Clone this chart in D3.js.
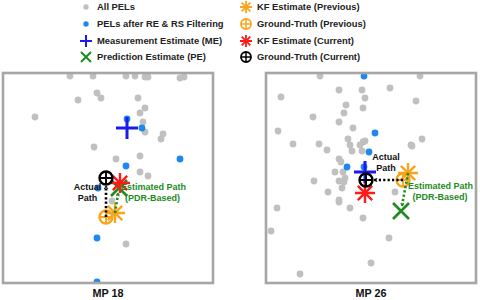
<!DOCTYPE html>
<html><head><meta charset="utf-8">
<script src="https://cdn.jsdelivr.net/npm/d3@7"></script>
<style>body{margin:0;background:#fff}svg{display:block}text{font-family:"Liberation Sans",Arial,sans-serif;font-weight:bold}</style>
</head><body><svg id="c" width="480" height="300"></svg>
<script>
// ---- data (local units) ----
const panelNames = ["MP 18", "MP 26"];
const gray18 = [[67,207],[90,207],[123,207],[132,207],[142,206],[145,206],[177,205],[181,206],[94,190],[98,185],[75,183],[135,185],[142,175],[137,170],[32,166],[140,161],[142,151],[160,149],[158,144],[91,136],[113,124],[137,127],[137,111],[145,107],[109,82],[123,39]];
const blue18 = [[124,164],[139,155],[177,124],[123,117],[95,95],[94,45],[94,1]];
const me18 = [124,155], gtCur18 = [103,105], kfCur18 = [117,100], pe18 = [116,95], gtPrev18 = [103,66], kfPrev18 = [112,70];
const gray26 = [[54,207],[154,207],[73,193],[124,195],[96,193],[15,186],[99,185],[150,182],[80,178],[97,175],[78,170],[47,166],[73,161],[87,155],[12,152],[156,144],[146,137],[145,138],[27,139],[53,139],[82,144],[84,138],[94,138],[97,141],[99,142],[61,133],[86,132],[96,132],[75,121],[73,124],[69,111],[77,111],[79,105],[73,102],[78,101],[48,102],[76,95],[62,91],[129,91],[73,83],[73,81],[11,75],[84,75],[97,65],[5,52],[123,45],[105,20],[34,9]];
const blue26 = [[98,207],[109,150],[103,131],[81,116],[98,116]];
const me26 = [99,111], gtCur26 = [100,103], kfCur26 = [99,90], pe26 = [135,72], gtPrev26 = [137,103], kfPrev26 = [142,110];
const legendLabels = ["All PELs","PELs after RE & RS Filtering","Measurement Estimate (ME)","Prediction Estimate (PE)","KF Estimate (Previous)","Ground-Truth (Previous)","KF Estimate (Current)","Ground-Truth (Current)"];

const C = {gray:"#c0c0c0", blue:"#1e88f0", me:"#1a1aee", pe:"#1f8a1f", kf:"#ff1a1a", orange:"#f8a51c", black:"#000", green:"#1f8a1f"};

const svg = d3.select("#c");
const defs = svg.append("defs");
function arrow(id,color){
  defs.append("marker").attr("id",id).attr("viewBox","0 0 10 10").attr("refX",9).attr("refY",5)
   .attr("markerWidth",4).attr("markerHeight",4).attr("orient","auto").attr("markerUnits","userSpaceOnUse")
   .append("path").attr("d","M1,1L9,5L1,9").attr("fill","none").attr("stroke",color).attr("stroke-width",2.5);
}
arrow("ab","#000"); arrow("ag",C.green);

// marker drawers
function plus(g,x,y,r,col,w){g.append("path").attr("d",`M${x-r},${y}H${x+r}M${x},${y-r}V${y+r}`).attr("stroke",col).attr("stroke-width",w).attr("fill","none");}
function cross(g,x,y,r,col,w){g.append("path").attr("d",`M${x-r},${y-r}L${x+r},${y+r}M${x-r},${y+r}L${x+r},${y-r}`).attr("stroke",col).attr("stroke-width",w).attr("fill","none");}
function aster(g,x,y,r,col,w){plus(g,x,y,r,col,w);const q=r*0.72;cross(g,x,y,q,col,w);}
function oplus(g,x,y,r,col,w){g.append("circle").attr("cx",x).attr("cy",y).attr("r",r).attr("fill","none").attr("stroke",col).attr("stroke-width",w);plus(g,x,y,r,col,w*0.8);}

// legend
const legG = svg.append("g");
const col1 = 86, col2 = 246, rows = [7,24,41,57];
function legItem(i){
  const x = i<4?col1:col2, y = rows[i%4];
  if(i===0) legG.append("circle").attr("cx",x).attr("cy",y).attr("r",2.7).attr("fill",C.gray);
  if(i===1) legG.append("circle").attr("cx",x).attr("cy",y).attr("r",2.7).attr("fill",C.blue);
  if(i===2) plus(legG,x,y,6,C.me,2);
  if(i===3) cross(legG,x,y,5,C.pe,2);
  if(i===4) aster(legG,x,y,6,C.orange,1.8);
  if(i===5) oplus(legG,x,y,5,C.orange,1.8);
  if(i===6) aster(legG,x,y,6,C.kf,1.8);
  if(i===7) oplus(legG,x,y,5,C.black,1.8);
  legG.append("text").attr("x",x+11).attr("y",y).attr("dy","0.35em").attr("font-size",9.4).attr("fill","#222").text(legendLabels[i]);
}
legendLabels.forEach((d,i)=>legItem(i));

const panels = [
  {left:3, name:panelNames[0], gray:gray18, blue:blue18, me:me18, gtCur:gtCur18, kfCur:kfCur18, pe:pe18, gtPrev:gtPrev18, kfPrev:kfPrev18,
   lab:{actual:[84.5,96,"middle"], est:[118,96,"start"], pdr:[149.5,86]}},
  {left:266, name:panelNames[1], gray:gray26, blue:blue26, me:me26, gtCur:gtCur26, kfCur:kfCur26, pe:pe26, gtPrev:gtPrev26, kfPrev:kfPrev26,
   lab:{actual:[120,126,"middle"], est:[142,97,"start"], pdr:[174,86]}}
];

panels.forEach((p,pi)=>{
  const top=73, W=210, H=210;
  const x = d3.scaleLinear().domain([0,210]).range([p.left,p.left+W]);
  const y = d3.scaleLinear().domain([0,210]).range([top+H,top]);
  const cid = "clip"+pi;
  defs.append("clipPath").attr("id",cid).append("rect").attr("x",p.left).attr("y",top).attr("width",W).attr("height",H);
  const g = svg.append("g").attr("clip-path",`url(#${cid})`);
  g.selectAll(".gp").data(p.gray).join("circle").attr("cx",d=>x(d[0])).attr("cy",d=>y(d[1])).attr("r",3.4).attr("fill",C.gray);
  g.selectAll(".bp").data(p.blue).join("circle").attr("cx",d=>x(d[0])).attr("cy",d=>y(d[1])).attr("r",3.4).attr("fill",C.blue);
  plus(g,x(p.me[0]),y(p.me[1]),11,C.me,3);
  cross(g,x(p.pe[0]),y(p.pe[1]),8,C.pe,2.6);
  aster(g,x(p.kfCur[0]),y(p.kfCur[1]),10,C.kf,2.4);
  oplus(g,x(p.gtCur[0]),y(p.gtCur[1]),6.5,C.black,2.4);
  aster(g,x(p.kfPrev[0]),y(p.kfPrev[1]),10,C.orange,2.4);
  oplus(g,x(p.gtPrev[0]),y(p.gtPrev[1]),6.5,C.orange,2.4);
  // dotted paths
  function path(a,b,col,mk,shrinkEnd){
    const x1=x(a[0]),y1=y(a[1]),x2=x(b[0]),y2=y(b[1]);
    const L=Math.hypot(x2-x1,y2-y1), ux=(x2-x1)/L, uy=(y2-y1)/L;
    g.append("line").attr("x1",x1).attr("y1",y1).attr("x2",x2-ux*shrinkEnd).attr("y2",y2-uy*shrinkEnd)
     .attr("stroke",col).attr("stroke-width",2.6).attr("stroke-dasharray","2.2,2.2").attr("marker-end",`url(#${mk})`);
  }
  path(p.gtPrev,p.gtCur,"#000","ab",8);
  path(p.kfPrev,p.pe,C.green,"ag",5);
  // labels
  const t = svg.append("g").attr("font-size",9);
  t.append("text").attr("x",x(p.lab.actual[0])).attr("y",y(p.lab.actual[1])).attr("text-anchor","middle").attr("dy","0.35em").attr("fill","#111").text("Actual");
  t.append("text").attr("x",x(p.lab.actual[0])).attr("y",y(p.lab.actual[1])+10.5).attr("text-anchor","middle").attr("dy","0.35em").attr("fill","#111").text("Path");
  t.append("text").attr("x",x(p.lab.est[0])).attr("y",y(p.lab.est[1])).attr("dy","0.35em").attr("fill",C.green).text("Estimated Path");
  t.append("text").attr("x",x(p.lab.pdr[0])).attr("y",y(p.lab.est[1])+10.5).attr("text-anchor","middle").attr("dy","0.35em").attr("fill",C.green).text("(PDR-Based)");
  // frame
  svg.append("rect").attr("x",p.left).attr("y",top).attr("width",W).attr("height",H).attr("fill","none").attr("stroke","#a6a6a6").attr("stroke-width",2.6);
  svg.append("text").attr("x",p.left+W/2).attr("y",293).attr("text-anchor","middle").attr("dy","0.35em").attr("font-size",10.8).attr("fill","#111").text(p.name);
});
</script></body></html>
